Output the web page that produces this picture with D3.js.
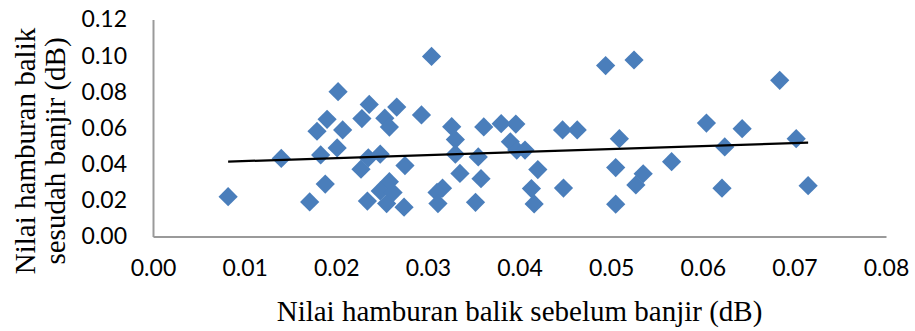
<!DOCTYPE html>
<html>
<head>
<meta charset="utf-8">
<script src="https://cdn.jsdelivr.net/npm/d3@7"></script>
<style>
  body { margin: 0; background: #fff; }
  .tick text { font-family: Lato, "Open Sans", sans-serif; font-size: 23px; fill: #000; }
  .title { font-family: "Liberation Serif", "Times New Roman", serif; font-size: 29px; fill: #000; }
</style>
</head>
<body>
<div id="chart"></div>
<script>
// x: sebelum banjir, y: sesudah banjir (dB)
const sebelum = [0.0082, 0.0140, 0.0171, 0.0188, 0.0179, 0.0190, 0.0183, 0.0201, 0.0202, 0.0207,
  0.0228, 0.0236, 0.0227, 0.0235, 0.0248, 0.0234, 0.0253, 0.0258, 0.0266, 0.0275,
  0.0258, 0.0248, 0.0262, 0.0255, 0.0274, 0.0293, 0.0304, 0.0326, 0.0330, 0.0330,
  0.0355, 0.0361, 0.0380, 0.0396, 0.0390, 0.0397, 0.0406, 0.0335, 0.0358, 0.0420,
  0.0316, 0.0310, 0.0311, 0.0352, 0.0413, 0.0416, 0.0448, 0.0447, 0.0463, 0.0494,
  0.0525, 0.0509, 0.0505, 0.0505, 0.0535, 0.0527, 0.0566, 0.0604, 0.0643, 0.0702,
  0.0624, 0.0621, 0.0715, 0.0684];
const sesudah = [0.0220, 0.0432, 0.0191, 0.0290, 0.0582, 0.0648, 0.0451, 0.0490, 0.0801, 0.0589,
  0.0652, 0.0730, 0.0372, 0.0435, 0.0455, 0.0196, 0.0654, 0.0605, 0.0716, 0.0392,
  0.0303, 0.0252, 0.0243, 0.0182, 0.0162, 0.0672, 0.0996, 0.0607, 0.0536, 0.0455,
  0.0440, 0.0606, 0.0624, 0.0622, 0.0524, 0.0478, 0.0478, 0.0349, 0.0320, 0.0370,
  0.0267, 0.0244, 0.0182, 0.0189, 0.0265, 0.0180, 0.0268, 0.0589, 0.0589, 0.0945,
  0.0976, 0.0541, 0.0381, 0.0179, 0.0347, 0.0285, 0.0414, 0.0627, 0.0596, 0.0541,
  0.0495, 0.0267, 0.0281, 0.0864];
// linear trendline ends
const trendX = [0.0082, 0.0715];
const trendY = [0.0414, 0.0519];
const xTicks = [0, 0.01, 0.02, 0.03, 0.04, 0.05, 0.06, 0.07, 0.08];
const yTicks = [0, 0.02, 0.04, 0.06, 0.08, 0.10, 0.12];

const margin = {top: 19.5, right: 29, bottom: 94.5, left: 153};
const width = 915 - margin.left - margin.right;
const height = 331 - margin.top - margin.bottom;

const svg = d3.select("#chart").append("svg")
  .attr("width", 915)
  .attr("height", 331);

const g = svg.append("g")
  .attr("transform", "translate(" + margin.left + "," + margin.top + ")");

const x = d3.scaleLinear().domain([0, 0.08]).range([0, width]);
const y = d3.scaleLinear().domain([0, 0.12]).range([height, 0]);

g.append("g")
  .attr("transform", "translate(0," + height + ")")
  .call(d3.axisBottom(x).tickValues(xTicks).tickSize(0).tickPadding(23).tickFormat(d3.format(".2f")))
  .call(a => a.select(".domain").attr("stroke", "#9a9a9a").attr("stroke-width", 2));

g.append("g")
  .call(d3.axisLeft(y).tickValues(yTicks).tickSize(0).tickPadding(26).tickFormat(d3.format(".2f")))
  .call(a => a.select(".domain").attr("stroke", "#9a9a9a").attr("stroke-width", 2));

const points = sebelum.map((v, i) => ({x: v, y: sesudah[i]}));
const diamond = d3.symbol().type(d3.symbolSquare).size(185);

g.selectAll(".pt")
  .data(points).enter()
  .append("path")
    .attr("class", "pt")
    .attr("d", diamond)
    .attr("transform", d => "translate(" + x(d.x) + "," + y(d.y) + ") rotate(45)")
    .attr("fill", "#4a7ebb");

g.append("path")
  .datum(trendX.map((v, i) => [v, trendY[i]]))
  .attr("d", d3.line().x(d => x(d[0])).y(d => y(d[1])))
  .attr("stroke", "#000")
  .attr("stroke-width", 2.2)
  .attr("fill", "none");

svg.append("text")
  .attr("class", "title")
  .attr("x", margin.left + width / 2)
  .attr("y", 321)
  .attr("text-anchor", "middle")
  .text("Nilai hamburan balik sebelum banjir (dB)");

const yt = svg.append("text")
  .attr("class", "title")
  .attr("transform", "translate(35,151) rotate(-90)")
  .attr("text-anchor", "middle");
yt.append("tspan").attr("x", 0).attr("y", 0).text("Nilai hamburan balik");
yt.append("tspan").attr("x", 0).attr("y", 30).text("sesudah banjir (dB)");
</script>
</body>
</html>
